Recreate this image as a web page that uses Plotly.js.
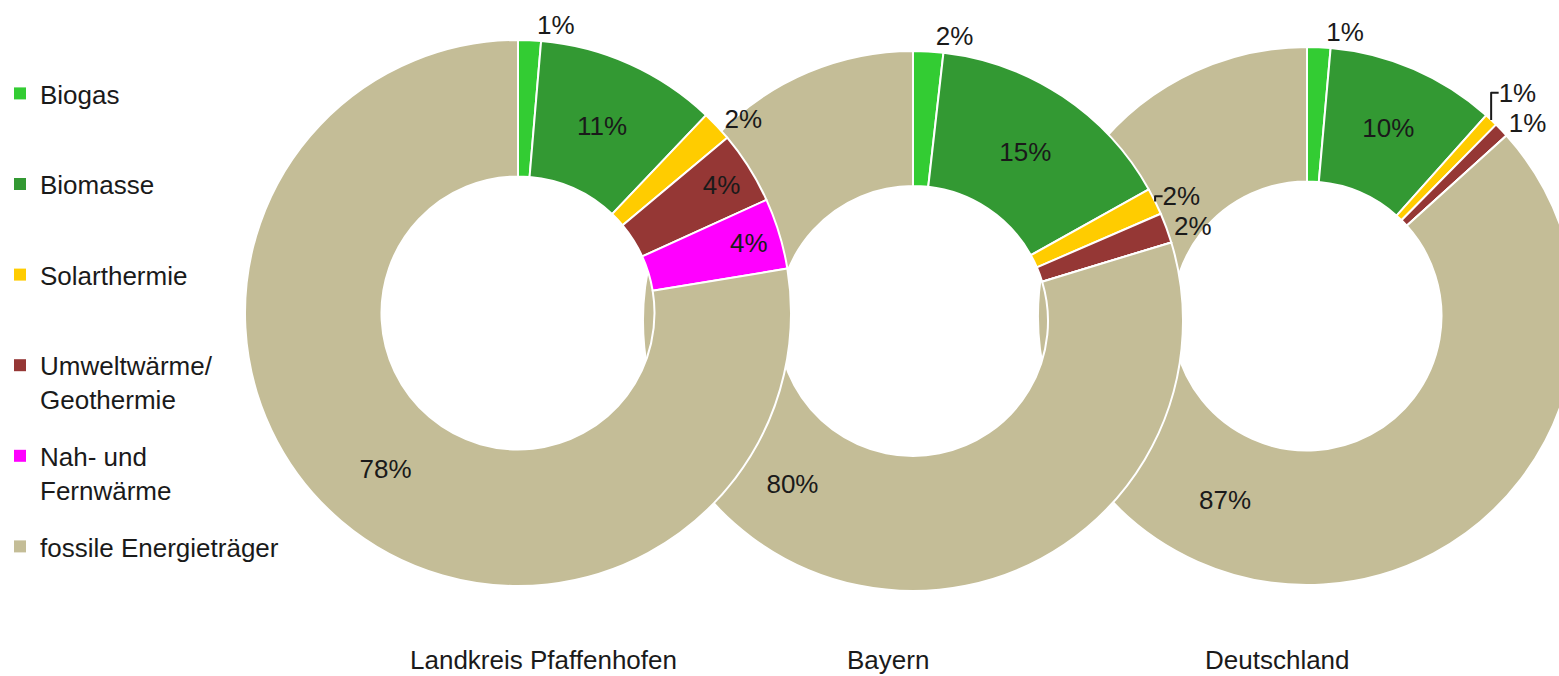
<!DOCTYPE html>
<html>
<head>
<meta charset="utf-8">
<script src="https://cdn.plot.ly/plotly-3.0.1.min.js"></script>
<style>
  body { margin: 0; overflow: hidden; background: #fff; }
  #chart { width: 1600px; height: 676px; }
</style>
</head>
<body>
<div id="chart"></div>
<script>
// Anteile der Energieträger an der Wärmeerzeugung (in %)
var regions = ['Landkreis Pfaffenhofen', 'Bayern', 'Deutschland'];
var sources = ['Biogas', 'Biomasse', 'Solarthermie', 'Umweltwärme/<br>Geothermie', 'Nah- und<br>Fernwärme', 'fossile Energieträger'];
var pfaffenhofen = [1.35, 10.75, 1.8, 4.3, 4.2, 77.6];
var bayern = [1.8, 15.1, 1.6, 1.8, 0, 79.7];
var deutschland = [1.4, 10.2, 0.8, 0.9, 0, 86.7];

var colors = ['#33cc33', '#339933', '#ffcc00', '#953735', '#ff00ff', '#c4bd97'];
var FONT = "'Liberation Sans Narrow', 'Arial Narrow', 'Liberation Sans', sans-serif";
var FONT_SIZE = 26;
var W = 1600, H = 676;

// where each donut sits (pixels): centre x, centre y, outer radius
var donuts = [
	{values: pfaffenhofen, cx: 518, cy: 313, r: 273, label_x: 543,
	 pos: ['outside', 'inside', 'outside', 'inside', 'inside', 'inside']},
	{values: bayern, cx: 913, cy: 321, r: 270, label_x: 888,
	 pos: ['outside', 'inside', 'outside', 'outside', 'none', 'inside']},
	{values: deutschland, cx: 1307, cy: 316, r: 269, label_x: 1277,
	 pos: ['outside', 'inside', 'outside', 'outside', 'none', 'inside']}
];


// Turns pixel centre + radius into a pie domain
function get_domain(d){
	return {
		x: [(d.cx - d.r) / W, (d.cx + d.r) / W],
		y: [(H - d.cy - d.r) / H, (H - d.cy + d.r) / H]
	};
}


// Builds one donut trace
function make_pie(d, i){
	return {
		type: 'pie',
		name: regions[i],
		values: d.values,
		labels: sources,
		domain: get_domain(d),
		hole: 0.5,
		sort: false,
		direction: 'clockwise',
		rotation: 0,
		marker: {colors: colors, line: {color: '#ffffff', width: 2}},
		texttemplate: '%{percent:.0%}',
		textposition: d.pos,
		insidetextorientation: 'horizontal',
		textfont: {family: FONT, size: FONT_SIZE, color: '#1a1a1a'},
		showlegend: false,
		hoverinfo: 'label+percent'
	};
}


// Legend entries as empty square-marker traces so the gap between entries can be set
function make_legend_entry(label, i){
	var name = label.indexOf('<br>') >= 0 ? label : label + '<br> ';
	return {
		type: 'scatter',
		mode: 'markers',
		x: [null],
		y: [null],
		name: name,
		legendgroup: 'g' + i,
		marker: {symbol: 'square', size: 12, color: colors[i]},
		hoverinfo: 'skip'
	};
}


var data = sources.map(make_legend_entry);
// right donut first so the left ones lie on top
for (var i = donuts.length - 1; i >= 0; i--){
	data.push(make_pie(donuts[i], i));
}

var annotations = donuts.map(function(d, i){
	return {
		text: regions[i],
		xref: 'paper', yref: 'paper',
		x: d.label_x / W, y: 1 - 660 / H,
		xanchor: 'center', yanchor: 'middle',
		showarrow: false,
		font: {family: FONT, size: FONT_SIZE, color: '#1a1a1a'}
	};
});

var layout = {
	width: W,
	height: H,
	margin: {l: 0, r: 0, t: 0, b: 0},
	paper_bgcolor: '#ffffff',
	plot_bgcolor: 'rgba(0,0,0,0)',
	xaxis: {visible: false},
	yaxis: {visible: false},
	showlegend: true,
	legend: {
		x: 0, y: 1 - 70 / H,
		xanchor: 'left', yanchor: 'top',
		font: {family: FONT, size: FONT_SIZE, color: '#1a1a1a'},
		itemwidth: 30,
		tracegroupgap: 20,
		valign: 'top',
		bgcolor: 'rgba(0,0,0,0)'
	},
	annotations: annotations
};

Plotly.newPlot('chart', data, layout, {displayModeBar: false, staticPlot: true});
</script>
</body>
</html>
